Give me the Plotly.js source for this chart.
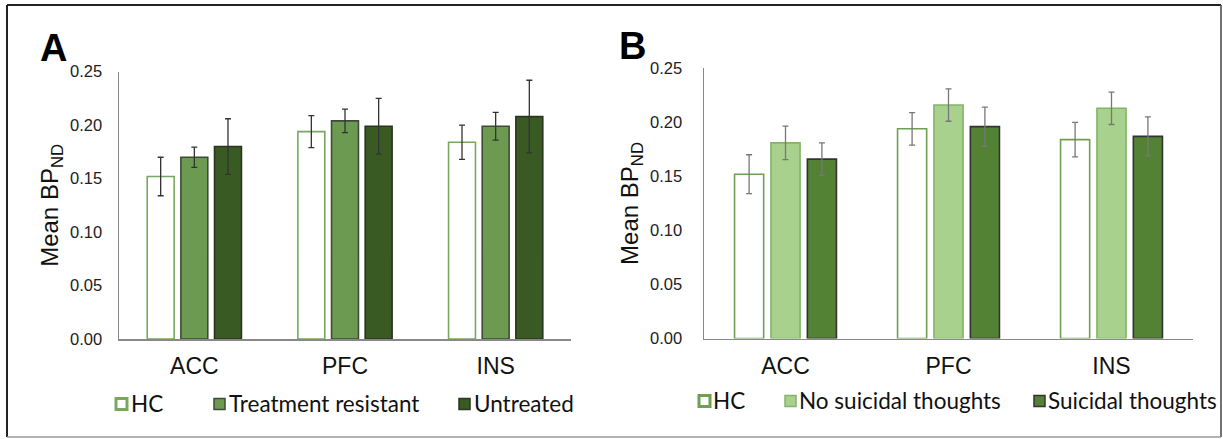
<!DOCTYPE html>
<html>
<head>
<meta charset="utf-8">
<script src="https://cdn.plot.ly/plotly-3.0.1.min.js"></script>
<style>
html,body{margin:0;padding:0;background:#fff;}
#chart{width:1223px;height:439px;}
</style>
</head>
<body>
<div id="chart"></div>
<script>
// ---- data ----
const regions = ["ACC", "PFC", "INS"];
const yTicks = [0, 0.05, 0.10, 0.15, 0.20, 0.25];
const yTickLabels = ["0.00", "0.05", "0.10", "0.15", "0.20", "0.25"];

// Panel A
const namesA = ["HC", "Treatment resistant", "Untreated"];
const hcMean = [0.152, 0.194, 0.184];
const hcErr = [0.018, 0.015, 0.016];
const trMean = [0.170, 0.204, 0.199];
const trErr = [0.0095, 0.011, 0.013];
const untrMean = [0.180, 0.199, 0.208];
const untrErr = [0.026, 0.026, 0.034];

// Panel B
const namesB = ["HC", "No suicidal thoughts", "Suicidal thoughts"];
const noSuiMean = [0.181, 0.216, 0.213];
const noSuiErr = [0.0155, 0.015, 0.015];
const suiMean = [0.166, 0.196, 0.187];
const suiErr = [0.015, 0.018, 0.018];

// ---- styles ----
const W = 1223, H = 439;
const px = x => x / W;
const py = y => 1 - y / H;

const stylesA = [
  {fill: "#ffffff", line: "#78a860", err: "#333333"},
  {fill: "#6b9a50", line: "#404a38", err: "#333333"},
  {fill: "#3a5a24", line: "#2a3520", err: "#333333"}
];
const stylesB = [
  {fill: "#ffffff", line: "#6f9f50", err: "#777777"},
  {fill: "#a9d18e", line: "#84b468", err: "#777777"},
  {fill: "#548235", line: "#333333", err: "#777777"}
];

function barTrace(name, y, err, st, xa, ya) {
  return {
    type: "bar", x: regions, y: y, name: name,
    xaxis: xa, yaxis: ya, showlegend: false,
    marker: {color: st.fill, line: {color: st.line, width: 1.6}},
    error_y: {type: "data", array: err, visible: true, color: st.err, thickness: 1.3, width: 3}
  };
}

const data = [
  barTrace(namesA[0], hcMean, hcErr, stylesA[0], "x", "y"),
  barTrace(namesA[1], trMean, trErr, stylesA[1], "x", "y"),
  barTrace(namesA[2], untrMean, untrErr, stylesA[2], "x", "y"),
  barTrace(namesB[0], hcMean, hcErr, stylesB[0], "x2", "y2"),
  barTrace(namesB[1], noSuiMean, noSuiErr, stylesB[1], "x2", "y2"),
  barTrace(namesB[2], suiMean, suiErr, stylesB[2], "x2", "y2")
];

const tickFont = {family: "Liberation Sans, Arial, sans-serif", size: 16.5, color: "#222"};
const catFont = {family: "Liberation Sans, Arial, sans-serif", size: 23, color: "#111"};
const titleFont = {family: "Liberation Sans, Arial, sans-serif", size: 24, color: "#111"};

function xAxis(domain, anchor) {
  return {
    domain: domain, anchor: anchor, type: "category",
    showline: true, linecolor: "#888", linewidth: 1.5,
    showgrid: false, zeroline: false, ticks: "",
    tickfont: catFont, ticklabelstandoff: 6, automargin: false, fixedrange: true
  };
}
function yAxis(domain, anchor, standoff) {
  return {
    domain: domain, anchor: anchor, range: [0, 0.25],
    tickmode: "array", tickvals: yTicks, ticktext: yTickLabels,
    showline: true, linecolor: "#888", linewidth: 1.5,
    showgrid: false, zeroline: false, ticks: "",
    tickfont: tickFont, ticklabelstandoff: standoff, automargin: false, fixedrange: true,
    title: {text: "Mean BP<sub>ND</sub>", font: titleFont, standoff: 4}
  };
}

// legend built from series names and styles
const legendFont = {family: "Lato, Noto Sans, sans-serif", size: 22.5, color: "#111"};
const legendA = [[115, 129], [213, 227], [458, 472]];
const legendB = [[698, 711], [784, 797], [1033, 1046]];
const shapes = [];
const annotations = [];
function addLegend(names, styles, pos, yc) {
  names.forEach((n, i) => {
    const sx = pos[i][0];
    shapes.push({type: "rect", xref: "paper", yref: "paper",
      x0: px(sx + 1), x1: px(sx + 12), y0: py(yc + 5.5), y1: py(yc - 5.5),
      fillcolor: styles[i].fill, line: {color: styles[i].line, width: i === 0 ? 3 : 1.5}});
    annotations.push({xref: "paper", yref: "paper", x: px(pos[i][1]), y: py(yc - 1),
      xanchor: "left", yanchor: "middle", showarrow: false, text: n, font: legendFont});
  });
}
addLegend(namesA, stylesA, legendA, 404);
addLegend(namesB, stylesB, legendB, 401);

// panel letters
annotations.push({xref: "paper", yref: "paper", x: px(53), y: py(48), xanchor: "center", yanchor: "middle",
  showarrow: false, text: "<b>A</b>", font: {family: "Liberation Sans, Arial, sans-serif", size: 38, color: "#000"}});
annotations.push({xref: "paper", yref: "paper", x: px(632), y: py(46), xanchor: "center", yanchor: "middle",
  showarrow: false, text: "<b>B</b>", font: {family: "Liberation Sans, Arial, sans-serif", size: 38, color: "#000"}});

// outer frame
shapes.push({type: "line", xref: "paper", yref: "paper", x0: px(7), x1: px(1221), y0: py(5), y1: py(5), line: {color: "#222", width: 2}});
shapes.push({type: "line", xref: "paper", yref: "paper", x0: px(7), x1: px(7), y0: py(5), y1: py(437), line: {color: "#222", width: 2}});
shapes.push({type: "line", xref: "paper", yref: "paper", x0: px(1221), x1: px(1221), y0: py(5), y1: py(437), line: {color: "#444", width: 1.5}});
shapes.push({type: "line", xref: "paper", yref: "paper", x0: px(7), x1: px(1221), y0: py(437), y1: py(437), line: {color: "#999", width: 1.5}});

const layout = {
  width: W, height: H,
  margin: {l: 0, r: 0, t: 0, b: 0},
  paper_bgcolor: "#fff", plot_bgcolor: "#fff",
  barmode: "group", bargap: 0.33, bargroupgap: 0.2,
  showlegend: false,
  xaxis: xAxis([px(119), px(571)], "y"),
  yaxis: yAxis([py(339), py(71.7)], "x", 12),
  xaxis2: xAxis([px(704), px(1193)], "y2"),
  yaxis2: yAxis([py(338.5), py(68.3)], "x2", 17),
  shapes: shapes,
  annotations: annotations
};

Plotly.newPlot("chart", data, layout, {staticPlot: true, displayModeBar: false});
</script>
</body>
</html>
